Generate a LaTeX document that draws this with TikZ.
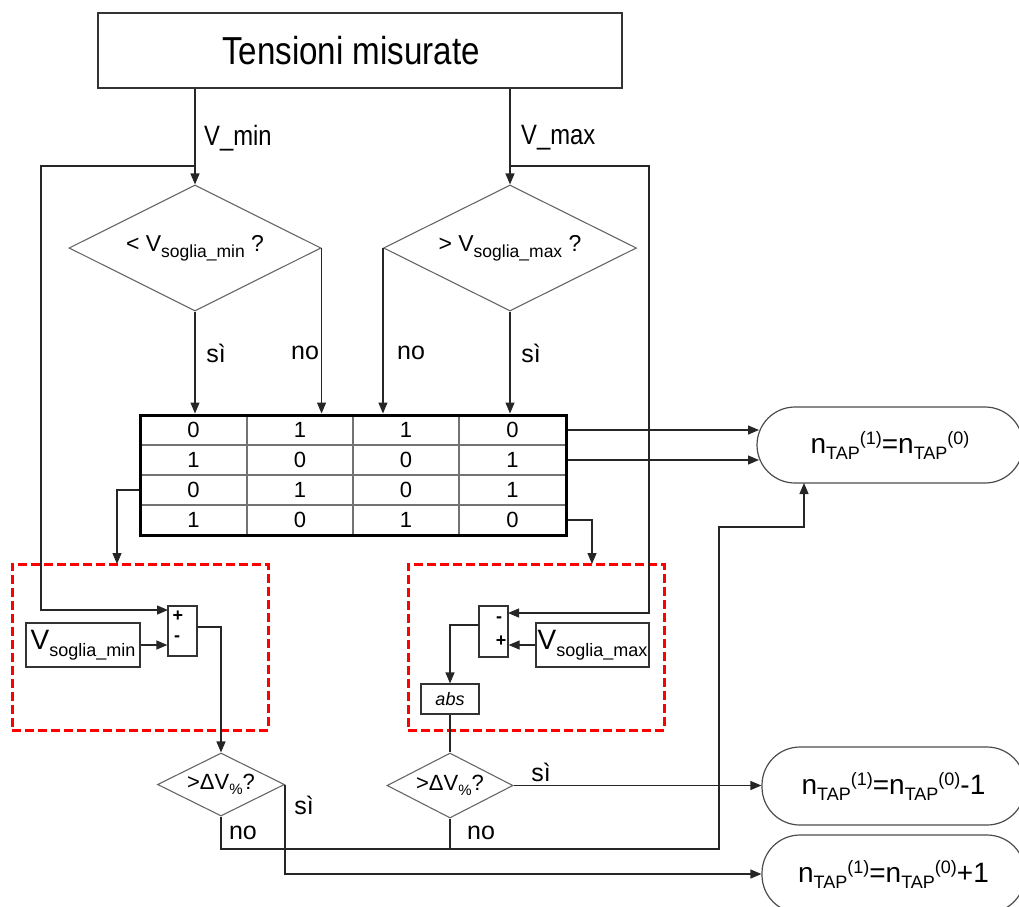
\documentclass[tikz,border=0pt]{standalone}
\usepackage{fontspec}
\setmainfont{Liberation Sans}
\newfontfamily\cf{Liberation Sans}[FakeStretch=0.85]
\usetikzlibrary{arrows.meta,shapes.geometric}
\newcommand{\fs}[1]{\fontsize{#1}{#1}\selectfont}
\newcommand{\lo}[3]{\raisebox{-#2}{\fontsize{#1}{#1}\selectfont #3}}
\newcommand{\hi}[3]{\raisebox{#2}{\fontsize{#1}{#1}\selectfont #3}}
\newcommand{\ntap}[1]{n\lo{18}{6pt}{TAP}\hi{18}{9pt}{(1)}=n\lo{18}{6pt}{TAP}\hi{18}{9pt}{(0)}#1}
\begin{document}
\begin{tikzpicture}[x=1pt,y=-1pt,
  ln/.style={draw=black!85, line width=1.2pt},
  arr/.style={ln, -{Triangle[length=11pt,width=9pt]}},
  box/.style={draw=black!80, line width=1.2pt, inner sep=0pt, rectangle},
  dia/.style={diamond, draw=black!60, line width=1.1pt, inner sep=0pt, aspect=2},
  oval/.style={draw=black!70, line width=1.2pt, rounded corners=38pt, inner sep=0pt, rectangle},
  redbox/.style={draw=red, line width=3pt, dash pattern=on 9pt off 4pt, inner sep=0pt, rectangle},
  lbl/.style={inner sep=0pt, font=\fs{25}},
  cell/.style={inner sep=0pt, font=\fs{22}},
  sgn/.style={inner sep=0pt, font=\bfseries\fs{18}},
  gridln/.style={draw=black!55, line width=1.5pt}
]
\useasboundingbox (0,0) rectangle (1019,906);
\clip (0,0) rectangle (1019,906);

% top box
\node[box, minimum width=524pt, minimum height=75pt, font=\cf\fs{39}] (top) at (360,50.5) {\hspace*{-18pt}Tensioni misurate};

% decision diamonds
\node[dia, minimum width=252pt, minimum height=126pt, font=\fs{23}] (d1) at (195,248) {< V\lo{17.5}{6pt}{soglia\_min} ?};
\node[dia, minimum width=253pt, minimum height=126pt, font=\fs{23}] (d2) at (510,248) {> V\lo{17.5}{6pt}{soglia\_max} ?};

\draw[arr] (top.south -| d1.north) -- (d1.north);
\draw[arr] (top.south -| d2.north) -- (d2.north);
\node[lbl, font=\cf\fs{28}, anchor=west] (lvmin) at (204,138) {V\_min};
\node[lbl, font=\cf\fs{28}, anchor=west] (lvmax) at (521,138) {V\_max};

% table
\draw[gridln] (140,445) -- (566,445) (140,475) -- (566,475) (140,505) -- (566,505);
\draw[gridln] (247,415) -- (247,535) (353,415) -- (353,535) (459,415) -- (459,535);
\node[draw=black, line width=3pt, minimum width=426pt, minimum height=120pt, inner sep=0pt] (tab) at (353,475) {};
\foreach \r/\y/\a/\b/\c/\d in {1/430/0/1/1/0, 2/460/1/0/0/1, 3/490/0/1/0/1, 4/520/1/0/1/0} {
  \node[cell] (c\r1) at (193.5,\y) {\a};
  \node[cell] (c\r2) at (300,\y) {\b};
  \node[cell] (c\r3) at (406,\y) {\c};
  \node[cell] (c\r4) at (512.5,\y) {\d};
}

\draw[arr] (d1.south) -- (d1.south |- tab.north);
\draw[arr] (d1.east) -- (d1.east |- tab.north);
\draw[arr] (d2.west) -- (d2.west |- tab.north);
\draw[arr] (d2.south) -- (d2.south |- tab.north);
\node[lbl] (s1lbl) at (216,353) {sì};
\node[lbl] (n1lbl) at (305,353) {no};
\node[lbl] (n2lbl) at (411,353) {no};
\node[lbl] (s2lbl) at (531,353) {sì};

% red boxes
\node[redbox, minimum width=256pt, minimum height=166pt] (rb1) at (140,647) {};
\node[redbox, minimum width=256pt, minimum height=166pt] (rb2) at (536,647) {};

% left subtraction block
\node[box, minimum width=29pt, minimum height=50pt] (s1) at (182.5,631) {};
\node[sgn] (s1a) at (178,616) {+};
\node[sgn] (s1b) at (177,639) {-};
\node[box, minimum width=114pt, minimum height=44pt, font=\fs{28}] (vmin) at (83,645) {V\lo{18}{7pt}{soglia\_min}};
\draw[arr] (vmin.east) -- (s1.west |- vmin.east);

\coordinate (fbL) at (195,166);
\coordinate (cL) at (41,610);
\coordinate (s1p) at (168,610);
\draw[arr] (fbL) -| (cL) -- (s1p);

% right subtraction block
\node[box, minimum width=29pt, minimum height=51pt] (s2) at (493.5,631.5) {};
\node[sgn] (s2a) at (499,620) {-};
\node[sgn] (s2b) at (501,641) {+};
\node[box, minimum width=113pt, minimum height=44pt, font=\fs{28}] (vmax) at (592.5,645) {V\lo{18}{7pt}{soglia\_max}};
\draw[arr] (vmax.west) -- (s2.east |- vmax.west);
\node[box, minimum width=58pt, minimum height=30pt, font=\itshape\fs{18}] (abs) at (450,699) {abs};

\coordinate (fbR) at (510,166);
\coordinate (cR) at (649,613);
\coordinate (s2m) at (508,613);
\draw[arr] (fbR) -| (cR) -- (s2m);

% table to red boxes
\coordinate (r1in) at (117,564);
\coordinate (r2in) at (592,564);
\draw[arr] (tab.west |- c31) -| (r1in);
\draw[arr] (tab.east |- c41) -| (r2in);

% lower diamonds
\node[dia, minimum width=127pt, minimum height=63pt, font=\fs{22}] (d3) at (221,784.5) {>ΔV\lo{15}{5pt}{\%}?};
\node[dia, minimum width=126pt, minimum height=65pt, font=\fs{22}] (d4) at (450,785.5) {>ΔV\lo{15}{5pt}{\%}?};

\coordinate (s1o) at (197,627);
\draw[arr] (s1o) -| (d3.north);
\coordinate (s2o) at (479,625);
\draw[arr] (s2o) -| (abs.north);
\draw[ln] (abs.south) -- (d4.north);

% result ovals
\node[oval, minimum width=266pt, minimum height=76pt, font=\fs{28}] (o1) at (890,445) {\ntap{}};
\node[oval, minimum width=263pt, minimum height=78pt, font=\fs{28}] (o2) at (893.5,786) {\ntap{-1}};
\node[oval, minimum width=263pt, minimum height=78pt, font=\fs{28}] (o3) at (893.5,874) {\ntap{+1}};

\coordinate (o1a) at (759,430);
\coordinate (o1c) at (759,460);
\draw[arr] (tab.east |- c11) -- (o1a);
\draw[arr] (tab.east |- c21) -- (o1c);

\coordinate (j1) at (719,849);
\coordinate (k1) at (719,527);
\coordinate (o1b) at (804,483);
\draw[arr] (d3.south) |- (j1) -- (k1) -| (o1b);
\draw[ln] (d4.south) -- (d4.south |- j1);
\draw[arr] (d3.east) |- (o3.west);
\draw[arr] (d4.east) -- (o2.west |- d4.east);

\node[lbl] (s3lbl) at (304,805) {sì};
\node[lbl] (n3lbl) at (243,833) {no};
\node[lbl] (n4lbl) at (481,833) {no};
\node[lbl] (s4lbl) at (541,772) {sì};
\end{tikzpicture}
\end{document}
